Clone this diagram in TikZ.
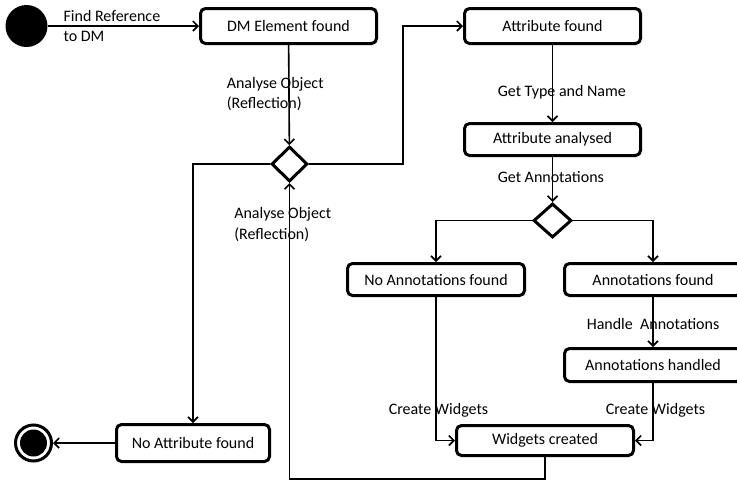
\documentclass[tikz,border=0pt]{standalone}
\usepackage{fontspec}
\setmainfont{Carlito}
\usetikzlibrary{arrows.meta,positioning,shapes.geometric}
\tikzset{
  act/.style={draw=black,line width=3pt,rounded corners=5pt,fill=white,minimum width=176pt,minimum height=32pt,align=center,inner sep=0pt},
  choice/.style={diamond,draw=black,line width=3pt,fill=white,minimum width=36pt,minimum height=35pt,inner sep=0pt},
  initial/.style={circle,fill=black,minimum size=42pt,inner sep=0pt},
  final/.style={circle,draw=black,line width=3pt,minimum size=36pt,inner sep=0pt,
    path picture={\fill[black] (path picture bounding box.center) circle (13.5pt);}},
  arr/.style={-{Straight Barb[length=5pt,width=10pt]},draw=black,line width=1.6pt},
  lbl/.style={anchor=west,align=left,inner sep=0pt}
}

\begin{document}
\begin{tikzpicture}[x=1pt,y=-1pt,font=\fontsize{16}{20.5}\selectfont]
  \useasboundingbox (0,0) rectangle (737,483);

  \node[initial] (start) at (26.5,26) {};
  \node[act,minimum height=35pt] (dm) at (288.5,26) {DM Element found};
  \node[choice] (dec1) at (289.5,164) {};
  \node[act,minimum height=35pt] (attr) at (552.5,26) {Attribute found};
  \node[act] (attran) at (552.5,139.5) {Attribute analysed};
  \node[choice,minimum width=38pt,minimum height=34pt] (dec2) at (552.5,220.5) {};
  \node[act,minimum width=177pt] (noann) at (436,279.5) {No Annotations found};
  \node[act,minimum width=177pt] (ann) at (653,279.5) {Annotations found};
  \node[act,minimum width=177pt,minimum height=33pt] (annh) at (653,365) {Annotations handled};
  \node[act,minimum width=177pt,minimum height=30pt] (widg) at (545,440.5) {Widgets created};
  \node[act,minimum width=153pt,minimum height=37pt] (noattr) at (193,443) {No Attribute found};
  \node[final] (end) at (33.5,443) {};

  \draw[arr] (start) -- node[lbl,pos=0.1] (l1) {Find Reference\\to DM} (dm);
  \draw[arr] (dm) -- node[lbl,pos=0.49,xshift=-63pt] (l2) {Analyse Object\\(Reflection)} (dec1);
  \draw[arr] (dec1.east) -- ++(94,0) |- (attr.west);
  \draw[arr] (dec1.west) -| (noattr.north);
  \draw[arr] (noattr) -- (end);

  \draw[arr] (attr) -- node[lbl,pos=0.61,xshift=-55.5pt] (l3) {Get Type and Name} (attran);
  \draw[arr] (attran) -- node[lbl,pos=0.44,xshift=-55.5pt] (l4) {Get Annotations} (dec2);
  \draw[arr] (dec2.west) -| (noann.north);
  \draw[arr] (dec2.east) -| (ann.north);
  \draw[arr] (ann) -- node[lbl,pos=0.54,xshift=-67pt] (l5) {Handle\ \ Annotations} (annh);

  \draw[arr] (noann.south) |- node[lbl,pos=0.395,xshift=-48pt] (l6) {Create Widgets} (widg.west);
  \draw[arr] (annh.south) |- node[lbl,pos=0.237,xshift=-48pt] (l7) {Create Widgets} (widg.east);
  \draw[arr] (widg.south) -- ++(0,22) -| node[lbl,pos=0.93,xshift=-56pt] (l8) {Analyse Object\\(Reflection)} (dec1.south);
\end{tikzpicture}
\end{document}
